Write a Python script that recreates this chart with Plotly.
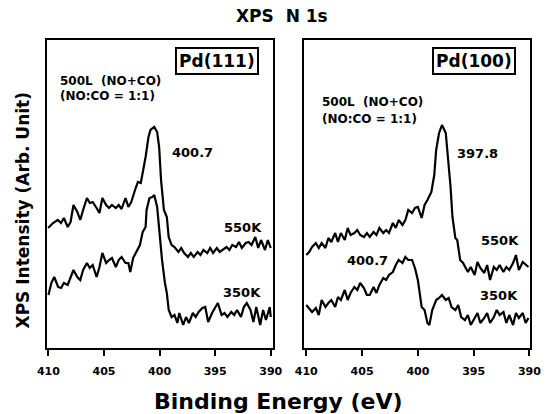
import plotly.graph_objects as go

# ---------------- data (binding energy in eV, intensity in arb. units) ----------------
pd111_550K_energy = [410.03, 409.59, 409.16, 408.87, 408.61, 408.27, 408.01, 407.75, 407.40, 407.14,
                     406.88, 406.54, 406.28, 406.02, 405.67, 405.41, 405.15, 404.81, 404.55, 404.29,
                     403.94, 403.68, 403.42, 403.07, 402.81, 402.55, 402.21, 401.95, 401.69, 401.52,
                     401.26, 401.00, 400.82, 400.48, 400.22, 400.04, 399.87, 399.61, 399.35, 399.18,
                     398.92, 398.66, 398.31, 398.05, 397.79, 397.45, 397.19, 396.93, 396.58, 396.32,
                     396.06, 395.71, 395.45, 395.19, 394.85, 394.59, 394.33, 393.98, 393.72, 393.46,
                     393.12, 392.86, 392.60, 392.25, 391.99, 391.73, 391.39, 391.13, 390.87, 390.52,
                     390.26, 390.00]
pd111_550K_intensity = [120, 125, 128, 125, 130, 121, 126, 143, 136, 128,
                        138, 150, 145, 146, 140, 135, 150, 143, 140, 143,
                        140, 143, 139, 150, 141, 146, 158, 166, 165, 175,
                        191, 211, 218, 221, 216, 201, 168, 138, 131, 111,
                        103, 101, 96, 100, 95, 91, 95, 91, 96, 93,
                        98, 95, 100, 95, 100, 96, 98, 101, 98, 103,
                        101, 106, 100, 105, 106, 103, 111, 100, 108, 98,
                        108, 100]

pd111_350K_energy = [410.00, 409.74, 409.48, 409.13, 408.87, 408.61, 408.27, 408.01, 407.75, 407.40,
                     407.14, 406.88, 406.54, 406.28, 406.02, 405.67, 405.41, 405.15, 404.81, 404.55,
                     404.29, 403.94, 403.68, 403.42, 403.07, 402.81, 402.64, 402.38, 402.12, 401.77,
                     401.52, 401.26, 401.17, 400.91, 400.65, 400.48, 400.22, 400.04, 399.78, 399.52,
                     399.35, 399.18, 398.92, 398.66, 398.40, 398.23, 397.88, 397.62, 397.36, 397.01,
                     396.75, 396.49, 396.15, 395.89, 395.63, 395.28, 395.02, 394.76, 394.42, 394.16,
                     393.90, 393.55, 393.29, 393.03, 392.68, 392.42, 392.16, 391.82, 391.56, 391.30,
                     390.95, 390.69, 390.43, 390.09, 390.00]
pd111_350K_intensity = [53, 65, 71, 61, 60, 65, 63, 71, 78, 71,
                        68, 78, 85, 80, 83, 71, 81, 95, 85, 88,
                        90, 81, 88, 91, 85, 85, 76, 90, 96, 103,
                        116, 121, 138, 150, 151, 153, 141, 118, 88, 65,
                        55, 38, 31, 33, 25, 35, 23, 31, 25, 35,
                        31, 36, 40, 41, 26, 35, 40, 45, 33, 35,
                        31, 36, 33, 38, 31, 41, 45, 38, 26, 41,
                        23, 38, 28, 41, 31]

pd100_550K_energy = [410.00, 409.74, 409.48, 409.14, 408.88, 408.62, 408.28, 408.02, 407.76, 407.41,
                     407.16, 406.90, 406.55, 406.29, 406.03, 405.69, 405.43, 405.17, 404.83, 404.57,
                     404.31, 403.97, 403.71, 403.45, 403.10, 402.84, 402.59, 402.24, 401.98, 401.72,
                     401.38, 401.12, 400.86, 400.52, 400.26, 400.00, 399.66, 399.40, 399.14, 398.79,
                     398.53, 398.36, 398.10, 397.84, 397.50, 397.33, 397.07, 396.90, 396.64, 396.47,
                     396.21, 395.95, 395.78, 395.52, 395.26, 394.91, 394.66, 394.40, 394.05, 393.79,
                     393.53, 393.19, 392.93, 392.67, 392.33, 392.07, 391.81, 391.47, 391.21, 390.95,
                     390.60, 390.34, 390.09]
pd100_550K_intensity = [93, 96, 101, 105, 100, 105, 100, 110, 106, 115,
                        106, 115, 108, 120, 113, 115, 118, 113, 111, 115,
                        111, 116, 113, 120, 115, 118, 115, 125, 120, 128,
                        123, 128, 138, 135, 140, 141, 130, 143, 148, 156,
                        173, 198, 215, 223, 215, 195, 161, 131, 110, 108,
                        88, 85, 81, 76, 81, 73, 86, 80, 75, 83,
                        68, 81, 78, 83, 76, 81, 78, 85, 93, 78,
                        86, 83, 81]

pd100_350K_energy = [410.00, 409.74, 409.48, 409.14, 408.88, 408.62, 408.28, 408.02, 407.76, 407.41,
                     407.16, 406.90, 406.55, 406.29, 406.03, 405.69, 405.43, 405.17, 404.83, 404.57,
                     404.31, 403.97, 403.71, 403.45, 403.10, 402.84, 402.59, 402.24, 401.98, 401.72,
                     401.38, 401.12, 400.86, 400.52, 400.26, 400.00, 399.66, 399.40, 399.14, 398.97,
                     398.71, 398.36, 398.10, 397.84, 397.50, 397.24, 396.98, 396.64, 396.38, 396.12,
                     395.78, 395.52, 395.26, 394.91, 394.66, 394.40, 394.05, 393.79, 393.53, 393.19,
                     392.93, 392.67, 392.33, 392.07, 391.81, 391.47, 391.21, 390.95, 390.60, 390.34,
                     390.09]
pd100_350K_intensity = [43, 40, 36, 40, 33, 48, 41, 45, 48, 41,
                        51, 48, 58, 48, 55, 61, 58, 65, 60, 53,
                        53, 61, 55, 63, 70, 68, 73, 76, 83, 88,
                        85, 91, 88, 88, 80, 68, 41, 38, 25, 23,
                        38, 48, 50, 53, 48, 50, 41, 38, 43, 31,
                        28, 33, 23, 30, 35, 25, 30, 35, 25, 31,
                        38, 33, 36, 25, 33, 23, 35, 30, 35, 25,
                        30]

tick_values = [410, 405, 400, 395, 390]
tick_labels = ["410", "405", "400", "395", "390"]

FONT = "DejaVu Sans"
W, H = 553, 414

fig = go.Figure()
line_style = dict(color="black", width=2.2)
for xs, ys, xa, ya in [
    (pd111_550K_energy, pd111_550K_intensity, "x", "y"),
    (pd111_350K_energy, pd111_350K_intensity, "x", "y"),
    (pd100_550K_energy, pd100_550K_intensity, "x2", "y2"),
    (pd100_350K_energy, pd100_350K_intensity, "x2", "y2"),
]:
    fig.add_trace(go.Scatter(x=xs, y=ys, xaxis=xa, yaxis=ya, mode="lines",
                             line=line_style, hoverinfo="skip"))

xaxis_common = dict(
    tickmode="array", tickvals=tick_values, ticktext=tick_labels,
    ticks="outside", ticklen=6, tickwidth=2, tickcolor="black",
    showline=True, linecolor="black", linewidth=2, mirror=True,
    showgrid=False, zeroline=False,
    tickfont=dict(family=FONT, size=11, color="black", weight="bold"),
    ticklabelstandoff=6,
)
yaxis_common = dict(
    range=[0, 308], showticklabels=False, ticks="",
    showline=True, linecolor="black", linewidth=2, mirror=True,
    showgrid=False, zeroline=False,
    domain=[66 / H, 374 / H],
)

fig.update_layout(
    width=W, height=H,
    margin=dict(l=0, r=0, t=0, b=0),
    paper_bgcolor="white", plot_bgcolor="white",
    showlegend=False,
    xaxis=dict(xaxis_common, domain=[38 / W, 273 / W], range=[410.17, 389.83], anchor="y"),
    yaxis=dict(yaxis_common, anchor="x"),
    xaxis2=dict(xaxis_common, domain=[306 / W, 541 / W], range=[410.17, 389.91], anchor="y2"),
    yaxis2=dict(yaxis_common, anchor="x2"),
)

def px_ann(text, x, y, size, xanchor="center", **kw):
    fig.add_annotation(text=text, xref="paper", yref="paper",
                       x=x / W, y=1 - y / H, showarrow=False,
                       xanchor=xanchor, yanchor="middle",
                       font=dict(family=FONT, size=size, color="black", weight="bold"), **kw)

# title and axis titles
px_ann("XPS  N 1s", 283, 16, 17)
px_ann("Binding Energy (eV)", 279, 401, 22)
px_ann("XPS Intensity (Arb. Unit)", 14, 210, 17, textangle=-90)

# boxed sample labels
px_ann("Pd(111)", 215, 61, 17, bordercolor="black", borderwidth=2, borderpad=2)
px_ann("Pd(100)", 482, 61, 17, bordercolor="black", borderwidth=2, borderpad=2)

# exposure text
px_ann("500L  (NO+CO)", 50, 81, 12, xanchor="left")
px_ann("(NO:CO = 1:1)", 50, 96, 12, xanchor="left")
px_ann("500L  (NO+CO)", 322, 102, 12, xanchor="left")
px_ann("(NO:CO = 1:1)", 322, 119, 12, xanchor="left")

def data_ann(text, x, y, xr, yr):
    fig.add_annotation(text=text, xref=xr, yref=yr, x=x, y=y, showarrow=False,
                       xanchor="center", yanchor="middle",
                       font=dict(family=FONT, size=13, color="black", weight="bold"))

data_ann("400.7", 397.0, 196, "x", "y")
data_ann("550K", 392.5, 121, "x", "y")
data_ann("350K", 392.6, 56, "x", "y")
data_ann("397.8", 394.66, 195, "x2", "y2")
data_ann("550K", 392.67, 108, "x2", "y2")
data_ann("400.7", 404.48, 88, "x2", "y2")
data_ann("350K", 392.76, 53, "x2", "y2")

fig.write_html("out.html")
